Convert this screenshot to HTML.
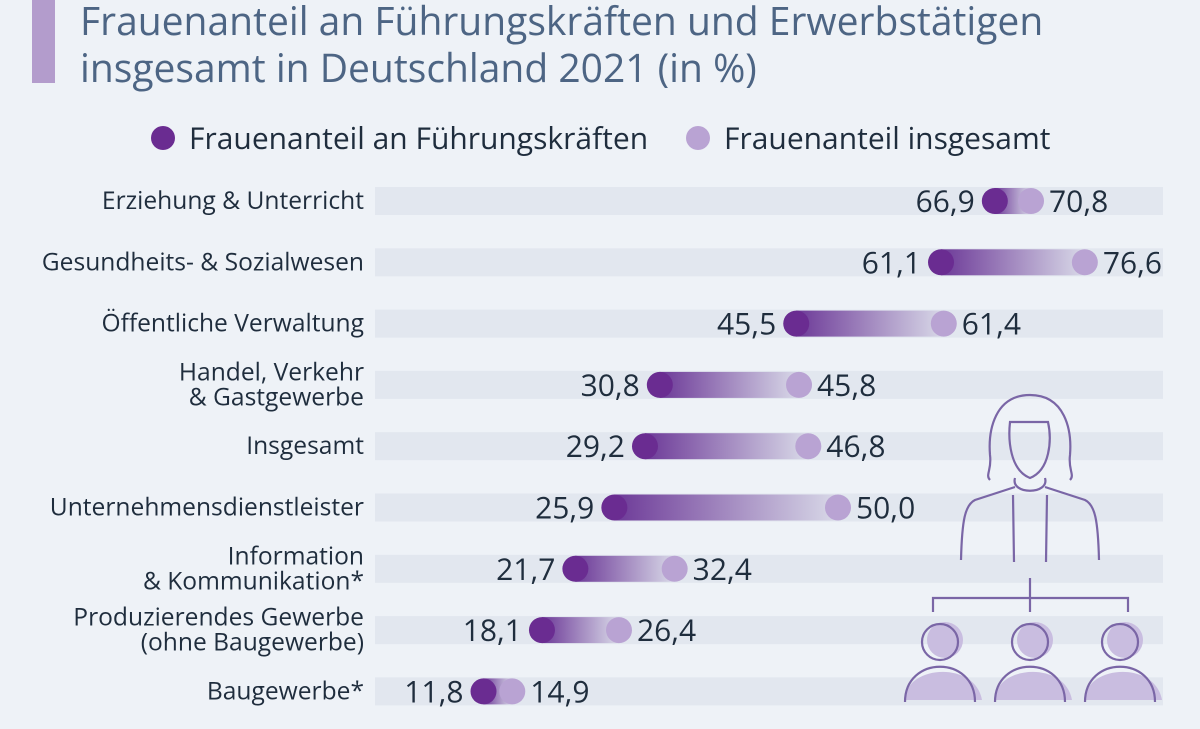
<!DOCTYPE html>
<html><head><meta charset="utf-8"><style>
body{margin:0;width:1200px;height:724px;overflow:hidden;background:#eef2f7;font-family:"Open Sans","Liberation Sans",sans-serif;}
</style></head><body>
<svg id="c" width="1200" height="724" xmlns="http://www.w3.org/2000/svg">
<defs><linearGradient id="g" x1="0" x2="1" y1="0" y2="0"><stop offset="0" stop-color="#6d3a98"/><stop offset="1" stop-color="#6d3a98" stop-opacity="0.08"/></linearGradient></defs>
<rect x="32" y="0" width="23" height="83" fill="#b39ccc"/>
<text x="80" y="35" font-size="39" fill="#4d6584">Frauenanteil an Führungskräften und Erwerbstätigen</text>
<text x="80" y="82" font-size="39" fill="#4d6584">insgesamt in Deutschland 2021 (in %)</text>
<g>
<circle cx="163" cy="138" r="12" fill="#6a2c91"/>
<text x="189" y="149" font-size="30" fill="#1f2d3d">Frauenanteil an Führungskräften</text>
<circle cx="698" cy="138" r="12" fill="#b9a3d3"/>
<text x="724" y="149" font-size="30" fill="#1f2d3d">Frauenanteil insgesamt</text>
</g>
<g id="rows"></g>
<g fill="none" stroke="#7a66a6" stroke-width="2.2">
<path d="M1030 395 C995 395 988 430 990 455 C992 470 985 475 990 480 M1030 395 C1065 395 1072 430 1070 455 C1068 470 1075 475 1070 480"/>
<path d="M1010 422 L1048 422 C1052 440 1050 470 1030 478 C1010 470 1008 440 1010 422Z"/>
<path d="M1015 478 C1010 495 1050 495 1045 478"/>
<path d="M1015 487 L975 500 C965 505 962 520 961 560 M1045 487 L1085 500 C1095 505 1098 520 1099 560 M1013 495 L1014 562 M1047 495 L1046 562"/>
<path d="M1030 578 L1030 612 M933 612 L933 598 L1128 598 L1128 612"/>
<g fill="#c9bde0" stroke="none"><circle cx="945" cy="640" r="18"/><circle cx="1035" cy="640" r="18"/><circle cx="1125" cy="640" r="18"/>
<path d="M905 700 C905 665 975 660 982 700Z"/><path d="M995 700 C995 665 1065 660 1072 700Z"/><path d="M1085 700 C1085 665 1155 660 1162 700Z"/></g>
<circle cx="940" cy="642" r="18"/><circle cx="1030" cy="642" r="18"/><circle cx="1120" cy="642" r="18"/>
<path d="M905 702 C905 655 975 655 975 702 M995 702 C995 655 1065 655 1065 702 M1085 702 C1085 655 1155 655 1155 702"/>
</g>
</svg>
<script>
const categories=[["Erziehung & Unterricht"],["Gesundheits- & Sozialwesen"],["Öffentliche Verwaltung"],["Handel, Verkehr","& Gastgewerbe"],["Insgesamt"],["Unternehmensdienstleister"],["Information","& Kommunikation*"],["Produzierendes Gewerbe","(ohne Baugewerbe)"],["Baugewerbe*"]];
const leaders=[66.9,61.1,45.5,30.8,29.2,25.9,21.7,18.1,11.8];
const totals=[70.8,76.6,61.4,45.8,46.8,50.0,32.4,26.4,14.9];
const NS="http://www.w3.org/2000/svg";
const x=v=>374+v*9.28;
const y=i=>201+i*61.3;
const g=document.getElementById('rows');
function mk(t,a){const e=document.createElementNS(NS,t);for(const k in a)e.setAttribute(k,a[k]);g.appendChild(e);return e;}
const fmt=v=>v.toFixed(1).replace('.',',');
categories.forEach((c,i)=>{
 const cy=y(i);
 const tr=mk('rect',{x:375,y:cy-14,width:788,height:28,fill:'#e2e7ef'});
 
 
 c.forEach((l,j)=>{
  const t=mk('text',{x:364,y:cy+8+(c.length>1?(j-0.5)*25:0),'font-size':24.6,fill:'#1f2d3d','text-anchor':'end'});
  t.textContent=l;
  
  
 });
 const x1=x(leaders[i]),x2=x(totals[i]);
 const b=mk('rect',{x:x1,y:cy-13,width:x2-x1,height:26,fill:'url(#g)'});
 
 
 const d2=mk('circle',{cx:x2,cy:cy,r:13,fill:'#b9a3d3'});
 
 
 const d1=mk('circle',{cx:x1,cy:cy,r:13,fill:'#6a2c91'});
 
 
 const l1=mk('text',{x:x1-20,y:cy+11,'font-size':30,fill:'#1f2d3d','text-anchor':'end'});
 l1.textContent=fmt(leaders[i]);
 
 
 const l2=mk('text',{x:x2+18,y:cy+11,'font-size':30,fill:'#1f2d3d'});
 l2.textContent=fmt(totals[i]);
 
 
});
</script>
</body></html>
